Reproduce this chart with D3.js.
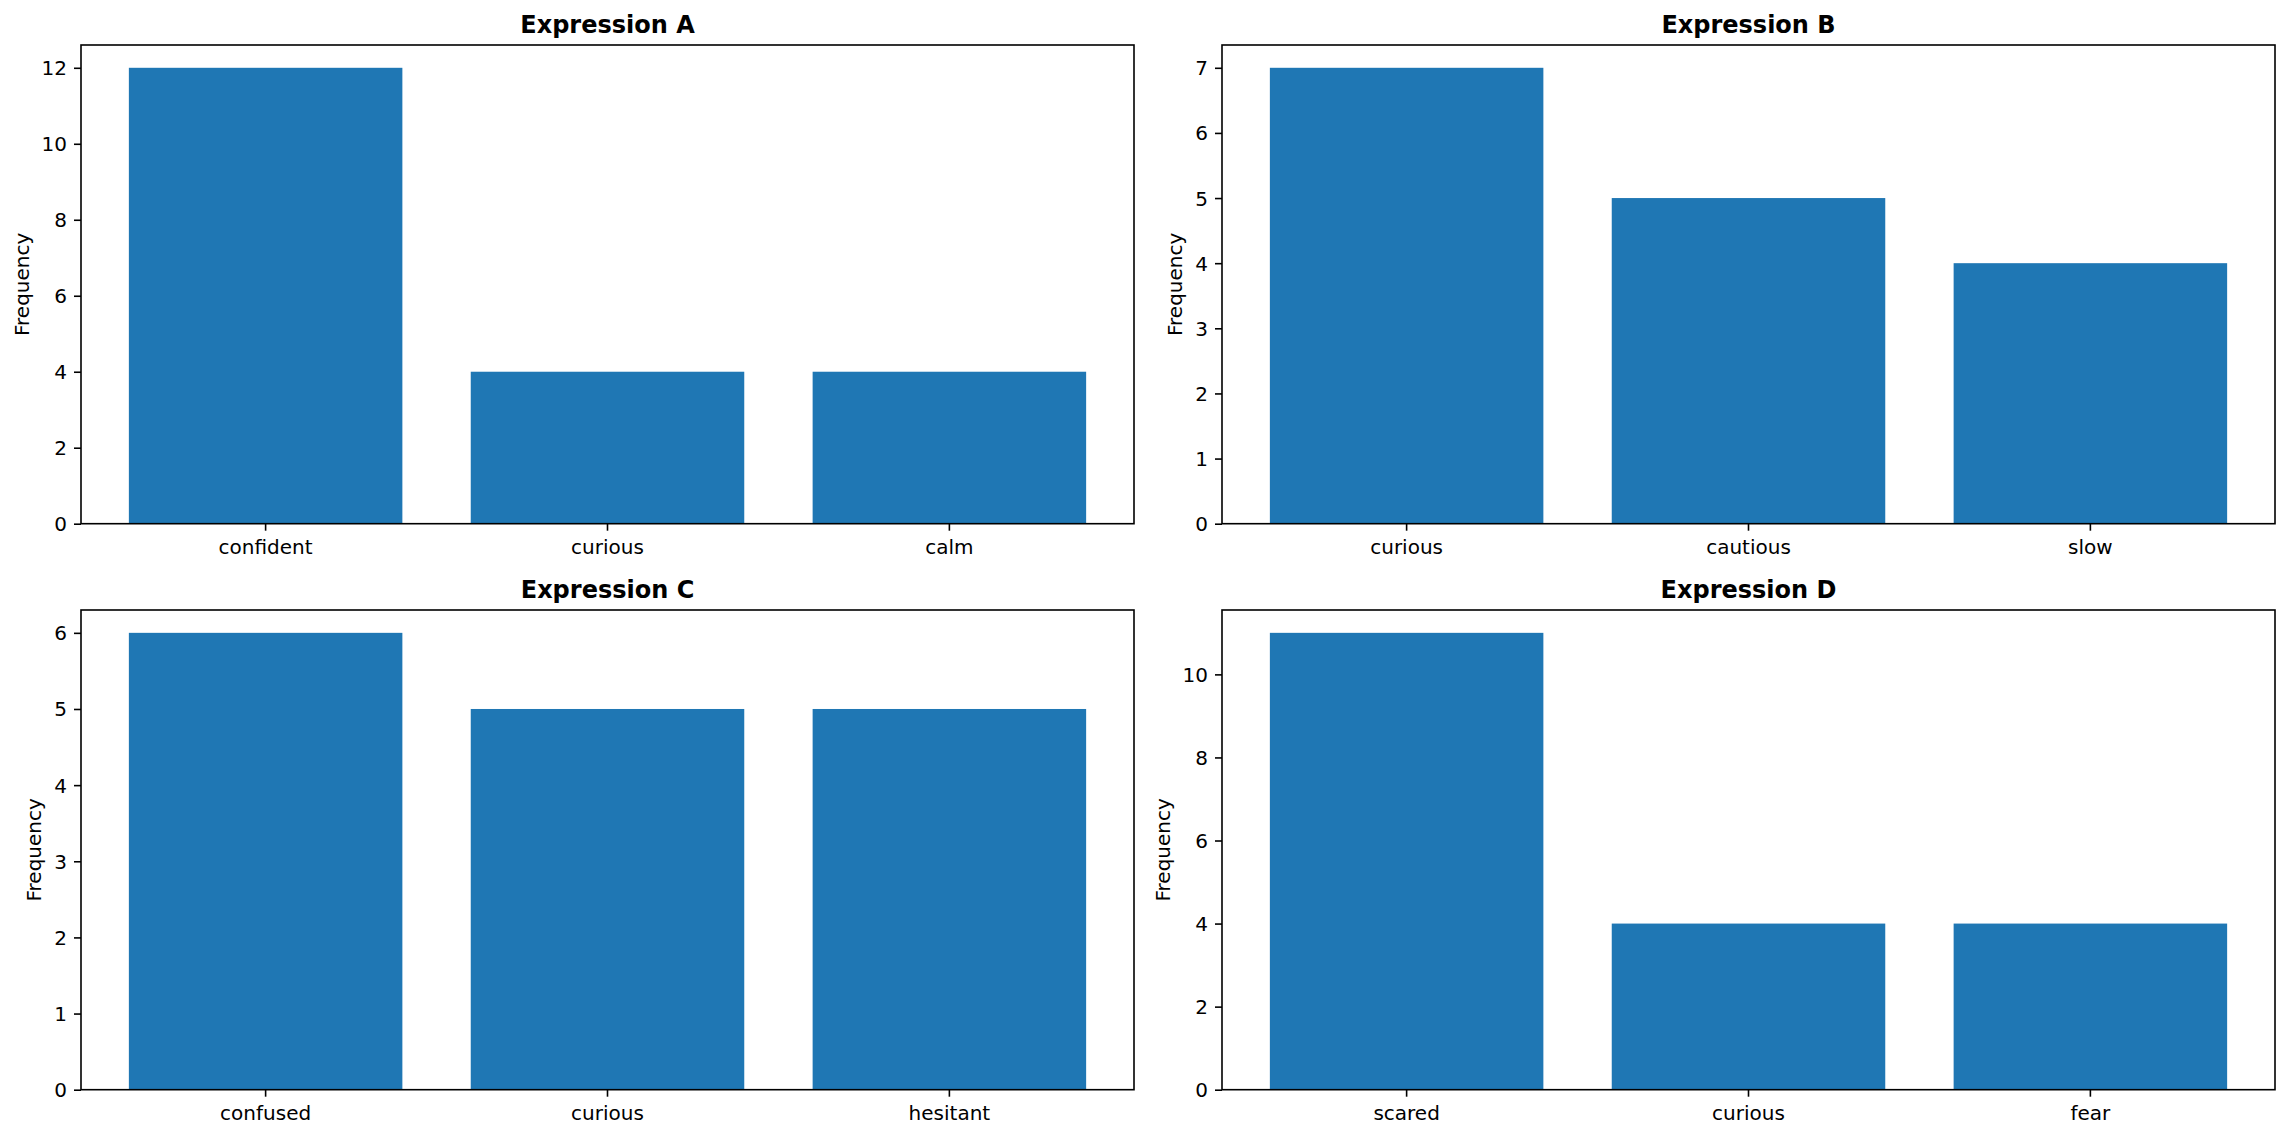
<!DOCTYPE html>
<html>
<head>
<meta charset="utf-8">
<script src="https://cdn.jsdelivr.net/npm/d3@7"></script>
<style>
	body { margin: 0; background: #fff; }
	text { font-family: "DejaVu Sans", sans-serif; fill: #000; }
</style>
</head>
<body>
<div id="chart"></div>
<script>

var width = 2289,
	height = 1137;

// data
var titles = ['Expression A', 'Expression B', 'Expression C', 'Expression D'];

var catsA = ['confident', 'curious', 'calm'],
	valsA = [12, 4, 4],
	ticksA = [0, 2, 4, 6, 8, 10, 12];

var catsB = ['curious', 'cautious', 'slow'],
	valsB = [7, 5, 4],
	ticksB = [0, 1, 2, 3, 4, 5, 6, 7];

var catsC = ['confused', 'curious', 'hesitant'],
	valsC = [6, 5, 5],
	ticksC = [0, 1, 2, 3, 4, 5, 6];

var catsD = ['scared', 'curious', 'fear'],
	valsD = [11, 4, 4],
	ticksD = [0, 2, 4, 6, 8, 10];

var panels = [
	{title: titles[0], cats: catsA, vals: valsA, ticks: ticksA, x0: 81, x1: 1134, y0: 45, y1: 523.7},
	{title: titles[1], cats: catsB, vals: valsB, ticks: ticksB, x0: 1222, x1: 2275, y0: 45, y1: 523.7},
	{title: titles[2], cats: catsC, vals: valsC, ticks: ticksC, x0: 81, x1: 1134, y0: 610, y1: 1089.7},
	{title: titles[3], cats: catsD, vals: valsD, ticks: ticksD, x0: 1222, x1: 2275, y0: 610, y1: 1089.7}
];

var svg = d3.select('#chart').append('svg')
	.attr('width', width)
	.attr('height', height);

panels.forEach(function(p) {
	var g = svg.append('g');

	var x = d3.scaleBand()
		.domain(p.cats)
		.range([p.x0, p.x1])
		.paddingInner(0.2)
		.paddingOuter(0.14);

	// matplotlib default 5% headroom
	var y = d3.scaleLinear()
		.domain([0, d3.max(p.vals) * 1.05])
		.range([p.y1, p.y0]);

	g.selectAll('rect.bar')
		.data(p.cats)
		.enter()
		.append('rect')
		.attr('class', 'bar')
		.attr('x', function(d) { return x(d); })
		.attr('width', x.bandwidth())
		.attr('y', function(d, i) { return y(p.vals[i]); })
		.attr('height', function(d, i) { return p.y1 - y(p.vals[i]); })
		.style('fill', '#1f77b4');

	// y axis
	var yAxis = g.append('g')
		.attr('transform', 'translate(' + p.x0 + ',0)')
		.call(d3.axisLeft(y).tickValues(p.ticks).tickSize(7).tickPadding(7).tickFormat(d3.format('d')));

	// x axis
	var xAxis = g.append('g')
		.attr('transform', 'translate(0,' + p.y1 + ')')
		.call(d3.axisBottom(x).tickSize(7).tickPadding(7));

	[xAxis, yAxis].forEach(function(a) {
		a.select('.domain').remove();
		a.selectAll('line').style('stroke', '#000').style('stroke-width', 1.6);
		a.selectAll('text')
			.style('font-family', '"DejaVu Sans", sans-serif')
			.style('font-size', '20px')
			.style('fill', '#000');
	});
	yAxis.selectAll('text').attr('dy', '0.35em');
	xAxis.selectAll('text').attr('y', 30).attr('dy', 0);

	// frame
	g.append('rect')
		.attr('x', p.x0)
		.attr('y', p.y0)
		.attr('width', p.x1 - p.x0)
		.attr('height', p.y1 - p.y0)
		.style('fill', 'none')
		.style('stroke', '#000')
		.style('stroke-width', 1.6);

	// title
	g.append('text')
		.text(p.title)
		.attr('x', (p.x0 + p.x1) / 2)
		.attr('y', p.y0 - 12)
		.attr('text-anchor', 'middle')
		.style('font-size', '24px')
		.style('font-weight', 'bold');

	// y label placed left of the widest tick label
	var maxW = 0;
	yAxis.selectAll('text').each(function() {
		maxW = Math.max(maxW, this.getBBox().width);
	});
	var lx = p.x0 - 14 - maxW - 8 - 5;
	g.append('text')
		.text('Frequency')
		.attr('transform', 'translate(' + lx + ',' + ((p.y0 + p.y1) / 2) + ') rotate(-90)')
		.attr('text-anchor', 'middle')
		.style('font-size', '20px');
});

</script>
</body>
</html>
